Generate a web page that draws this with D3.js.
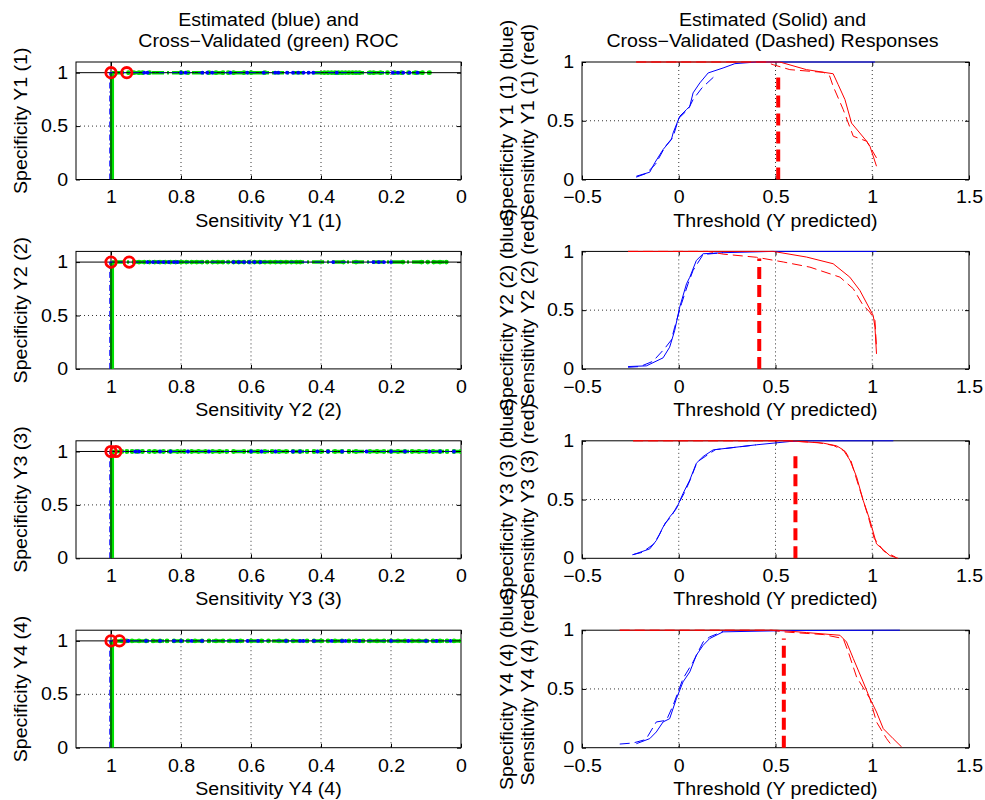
<!DOCTYPE html>
<html><head><meta charset="utf-8">
<script src="https://cdn.jsdelivr.net/npm/d3@7"></script>
<style>
body{margin:0;background:#fff;}
svg text{font-family:"Liberation Sans",Arial,Helvetica,sans-serif;font-size:17.5px;fill:#000;}
</style></head>
<body><svg id="chart" width="985" height="800"></svg>
<script>
// ---------- tick labels ----------
const rocXTicks = [1, 0.8, 0.6, 0.4, 0.2, 0];
const yTicks = [0, 0.5, 1];
const respXTicks = [-0.5, 0, 0.5, 1, 1.5];
const outputs = ["Y1 (1)", "Y2 (2)", "Y3 (3)", "Y4 (4)"];

// ---------- ROC data: sensitivity values at specificity 1 ----------
const rocEst1 = [0.905,0.896,0.80,0.787,0.739,0.725,0.711,0.659,0.611,0.564,0.531,0.522,0.497,0.48,0.465,0.45,0.435,0.422,0.355,0.195,0.18,0.165,0.147,0.124];
const rocCv1  = [0.95,0.935,0.92,0.91,0.89,0.80,0.78,0.72,0.70,0.68,0.665,0.65,0.62,0.60,0.56,0.39,0.38,0.37,0.36,0.35,0.34,0.33,0.32,0.31,0.30,0.29,0.26,0.25,0.23,0.21,0.19,0.17,0.15,0.13,0.11,0.09];
const rocEst2 = [0.896,0.88,0.865,0.85,0.835,0.82,0.81,0.65,0.635,0.62,0.605,0.59,0.573,0.365,0.25,0.235,0.22,0.2];
const rocCv2  = [0.934,0.92,0.905,0.89,0.875,0.86,0.845,0.83,0.815,0.80,0.785,0.77,0.755,0.74,0.725,0.71,0.695,0.68,0.665,0.65,0.635,0.62,0.605,0.59,0.575,0.56,0.545,0.53,0.515,0.50,0.485,0.47,0.459,0.336,0.30,0.166,0.113,0.095,0.078,0.06,0.042];
const rocEst3 = [0.93,0.92,0.86,0.83,0.78,0.72,0.60,0.57,0.53,0.48,0.46,0.41,0.38,0.34,0.27,0.2,0.16,0.09,0.06,0.02];
const rocCv3  = [0.97,0.955,0.94,0.925,0.91,0.89,0.875,0.85,0.83,0.81,0.79,0.77,0.75,0.73,0.71,0.69,0.67,0.65,0.62,0.60,0.58,0.56,0.54,0.52,0.50,0.48,0.46,0.44,0.42,0.40,0.38,0.36,0.34,0.32,0.30,0.26,0.24,0.22,0.20,0.18,0.16,0.14,0.12,0.10,0.08,0.06,0.04,0.02,0.0];
const rocEst4 = [0.96,0.95,0.90,0.86,0.82,0.80,0.77,0.74,0.64,0.61,0.58,0.5,0.46,0.45,0.42,0.37,0.34,0.33,0.29,0.2,0.15,0.1,0.07,0.03];
const rocCv4  = [0.97,0.955,0.94,0.92,0.90,0.88,0.86,0.84,0.82,0.80,0.78,0.76,0.74,0.72,0.70,0.68,0.66,0.63,0.60,0.57,0.55,0.52,0.50,0.48,0.44,0.42,0.40,0.38,0.36,0.34,0.32,0.30,0.28,0.26,0.24,0.22,0.20,0.18,0.16,0.14,0.12,0.10,0.08,0.06,0.04,0.02,0.0];
const rocEstVert = [1.004, 1.004, 1.004, 1.004];
const rocCvVert  = [0.997, 0.997, 0.997, 0.997];
const rocMarks = [[1, 0.955], [1, 0.948], [1, 0.986], [1, 0.976]];

// ---------- Response curves [threshold, value] ----------
const specEst1 = [[-0.219,0.028],[-0.15,0.062],[-0.124,0.142],[-0.081,0.255],[-0.038,0.34],[-0.029,0.397],[0.005,0.538],[0.04,0.595],[0.057,0.623],[0.074,0.737],[0.109,0.822],[0.152,0.907],[0.229,0.949],[0.29,0.986],[0.402,1.0],[1.014,1.0]];
const specCv1  = [[-0.22,0.02],[-0.17,0.05],[-0.12,0.13],[-0.07,0.28],[-0.03,0.36],[0.0,0.52],[0.05,0.6],[0.074,0.68],[0.12,0.78],[0.181,0.873]];
const sensEst1 = [[-0.22,1],[0.522,1],[0.66,0.935],[0.798,0.9],[0.824,0.807],[0.859,0.68],[0.893,0.48],[0.971,0.326],[0.988,0.283],[1.022,0.113]];
const sensCv1  = [[-0.22,1],[0.45,1],[0.488,0.977],[0.574,0.935],[0.747,0.912],[0.78,0.88],[0.798,0.793],[0.85,0.595],[0.902,0.368],[0.971,0.326],[1.022,0.184]];

const specEst2 = [[-0.262,0.02],[-0.167,0.026],[-0.081,0.094],[-0.047,0.185],[-0.021,0.327],[0.005,0.526],[0.04,0.724],[0.057,0.78],[0.091,0.923],[0.126,0.98],[0.229,0.989],[0.488,1],[1.022,1]];
const specCv2  = [[-0.262,0.014],[-0.2,0.02],[-0.133,0.065],[-0.072,0.175],[-0.038,0.247],[-0.021,0.355],[0.014,0.554],[0.048,0.724],[0.074,0.838],[0.126,0.974],[0.229,0.989]];
const sensEst2 = [[-0.262,1],[0.488,1],[0.66,0.952],[0.798,0.895],[0.884,0.781],[0.936,0.668],[1.005,0.455],[1.014,0.355],[1.022,0.128]];
const sensCv2  = [[-0.262,1],[0.15,1],[0.229,0.977],[0.402,0.95],[0.54,0.91],[0.678,0.866],[0.833,0.781],[0.902,0.682],[0.953,0.54],[0.988,0.483],[1.014,0.412],[1.022,0.185]];

const specEst3 = [[-0.236,0.031],[-0.15,0.08],[-0.116,0.151],[-0.081,0.266],[-0.047,0.351],[-0.012,0.423],[0.022,0.551],[0.057,0.666],[0.091,0.809],[0.126,0.866],[0.178,0.923],[0.402,0.966],[0.574,0.994],[0.7,1],[1.109,1]];
const specCv3  = [[-0.24,0.03],[-0.19,0.05],[-0.13,0.12],[-0.1,0.2],[-0.07,0.3],[-0.04,0.35],[-0.01,0.44],[0.03,0.56],[0.06,0.67],[0.095,0.82],[0.14,0.87],[0.19,0.925],[0.4,0.965]];
const sensEst3 = [[-0.236,1],[0.574,1],[0.747,0.98],[0.816,0.957],[0.85,0.923],[0.884,0.837],[0.919,0.694],[0.953,0.494],[0.988,0.323],[1.022,0.123],[1.091,0.023],[1.134,0]];
const sensCv3  = [[-0.236,1],[0.55,1],[0.72,0.985],[0.8,0.96],[0.86,0.91],[0.89,0.83],[0.91,0.72],[0.95,0.51],[0.98,0.35],[1.01,0.17],[1.06,0.06],[1.12,0.01]];

const specEst4 = [[-0.219,0.034],[-0.15,0.077],[-0.116,0.134],[-0.081,0.219],[-0.047,0.247],[-0.012,0.418],[0.022,0.56],[0.057,0.645],[0.091,0.787],[0.126,0.872],[0.16,0.929],[0.229,0.986],[0.574,0.997],[1.143,1]];
const specCv4  = [[-0.305,0.031],[-0.236,0.04],[-0.17,0.07],[-0.116,0.219],[-0.064,0.233],[-0.029,0.361],[0.022,0.588],[0.074,0.73],[0.126,0.9],[0.16,0.943],[0.229,0.99]];
const sensEst4 = [[-0.305,1],[0.505,1],[0.66,0.98],[0.833,0.957],[0.867,0.9],[0.902,0.759],[0.953,0.56],[0.988,0.418],[1.022,0.304],[1.057,0.162],[1.108,0.077],[1.152,0.006]];
const sensCv4  = [[-0.305,1],[0.48,1],[0.54,0.986],[0.747,0.963],[0.85,0.929],[0.876,0.815],[0.919,0.602],[0.988,0.418],[1.022,0.219],[1.074,0.077],[1.1,0.02]];

const thresholds = [0.514, 0.416, 0.603, 0.543];
const thresholdTops = [0.92, 0.94, 0.92, 0.93];

const rocEst = [rocEst1, rocEst2, rocEst3, rocEst4];
const rocCv = [rocCv1, rocCv2, rocCv3, rocCv4];
const specEst = [specEst1, specEst2, specEst3, specEst4];
const specCv = [specCv1, specCv2, specCv3, specCv4];
const sensEst = [sensEst1, sensEst2, sensEst3, sensEst4];
const sensCv = [sensCv1, sensCv2, sensCv3, sensCv4];

// ---------- layout ----------
const svg = d3.select("#chart");
const L = {x0: 76, x1: 461};
const R = {x0: 582, x1: 969};
const top0 = 62, step = 189.4, ph = 117.5;
const BLUE = "#0000ff", GREEN = "#00e000", RED = "#ff0000";
const SX = 1.12; // horizontal stretch of text

function grid(g, xs, ys, yt, gridX) {
  const [xa, xb] = xs.range();
  const [yb, ya] = ys.range();
  g.selectAll(".gx").data(gridX).join("line")
    .attr("x1", d => xs(d)).attr("x2", d => xs(d)).attr("y1", ya).attr("y2", yb)
    .attr("stroke", "#000").attr("stroke-width", 0.8).attr("stroke-dasharray", "1,3");
  g.selectAll(".gy").data(yt.filter(v => v > 0 && v < 1)).join("line")
    .attr("x1", xa).attr("x2", xb).attr("y1", d => ys(d)).attr("y2", d => ys(d))
    .attr("stroke", "#000").attr("stroke-width", 0.8).attr("stroke-dasharray", "1,3");
}
function axesBox(g, xs, ys, xt, yt, fmt) {
  const [xa, xb] = xs.range();
  const [yb, ya] = ys.range();
  const bottom = d3.axisBottom(xs).tickValues(xt).tickSize(-4).tickPadding(11.5).tickFormat(fmt);
  const gb = g.append("g").attr("transform", `translate(0,${yb})`).call(bottom);
  const topAx = d3.axisTop(xs).tickValues(xt).tickSize(-4).tickFormat("");
  const gt = g.append("g").attr("transform", `translate(0,${ya})`).call(topAx);
  const left = d3.axisLeft(ys).tickValues(yt).tickSize(-4).tickPadding(7).tickFormat(fmt);
  const gl = g.append("g").attr("transform", `translate(${xa},0)`).call(left);
  const rightAx = d3.axisRight(ys).tickValues(yt).tickSize(-4).tickFormat("");
  const gr = g.append("g").attr("transform", `translate(${xb},0)`).call(rightAx);
  [gb, gt, gl, gr].forEach(a => {
    a.select(".domain").remove();
    a.selectAll("line").attr("stroke", "#000");
    a.selectAll("text").attr("font-size", 17.5).attr("font-family", "Liberation Sans, Arial, sans-serif")
      .attr("transform", `scale(${SX},1)`);
  });
  g.append("rect").attr("x", xa).attr("y", ya).attr("width", xb - xa).attr("height", yb - ya)
    .attr("fill", "none").attr("stroke", "#000").attr("stroke-width", 1);
}
const fmt = d => (d < 0 ? "\u2212" : "") + Math.abs(d);
function label(x, y, t, rot) {
  svg.append("text").attr("transform", `translate(${x},${y})${rot ? " rotate(-90)" : ""} scale(${SX},1)`)
    .attr("text-anchor", "middle").text(t);
}

// titles
["Estimated (blue) and", "Cross\u2212Validated (green) ROC"].forEach((t, i) => label((L.x0 + L.x1) / 2, 26 + i * 21, t));
["Estimated (Solid) and", "Cross\u2212Validated (Dashed) Responses"].forEach((t, i) => label((R.x0 + R.x1) / 2 - 3, 26 + i * 21, t));

for (let i = 0; i < 4; i++) {
  const yt0 = top0 + i * step, yb0 = yt0 + ph;

  // ----- left ROC panel -----
  const xs = d3.scaleLinear().domain([1.1, 0]).range([L.x0, L.x1]);
  const ys = d3.scaleLinear().domain([0, 1.1]).range([yb0, yt0]);
  const gL = svg.append("g");
  const clipId = "clipL" + i;
  svg.append("clipPath").attr("id", clipId).append("rect")
    .attr("x", L.x0).attr("y", yt0).attr("width", L.x1 - L.x0).attr("height", ph);
  grid(gL, xs, ys, yTicks, [0.8, 0.6, 0.4, 0.2]);
  axesBox(gL, xs, ys, rocXTicks, yTicks, fmt);
  gL.selectAll(".gy1").data([0.5]).join("line");
  const line = d3.line().x(d => xs(d[0])).y(d => ys(d[1]));

  const cvVert = [[rocCvVert[i], 0], [rocCvVert[i], 1]];
  const cvHor = [[rocCvVert[i], 1]].concat(rocCv[i].map(s => [s, 1]));
  const estPts = [[rocEstVert[i], 0], [rocEstVert[i], 1]].concat(rocEst[i].map(s => [s, 1]));
  const gp = gL.append("g").attr("clip-path", `url(#${clipId})`);
  // cross-validated (green), thick
  gp.append("path").attr("d", line(cvVert)).attr("fill", "none")
    .attr("stroke", GREEN).attr("stroke-width", 4);
  gp.append("path").attr("d", line(cvHor)).attr("fill", "none")
    .attr("stroke", GREEN).attr("stroke-width", 3.5).attr("stroke-dasharray", "12,3,2,3");
  gp.selectAll(".gd").data(rocCv[i]).join("circle")
    .attr("cx", d => xs(d)).attr("cy", ys(1)).attr("r", 2.4).attr("fill", GREEN);
  // reference lines (black)
  gp.append("line").attr("x1", L.x0).attr("x2", L.x1).attr("y1", ys(1)).attr("y2", ys(1))
    .attr("stroke", "#000").attr("stroke-width", 1);
  gp.append("line").attr("x1", xs(1)).attr("x2", xs(1)).attr("y1", yt0).attr("y2", yb0)
    .attr("stroke", "#000").attr("stroke-width", 1);
  // estimated (blue)
  gp.append("path").attr("d", line(estPts)).attr("fill", "none")
    .attr("stroke", BLUE).attr("stroke-width", 1).attr("stroke-dasharray", "6,3,1,3").attr("opacity", 0.8);
  gp.selectAll(".bd").data(rocEst[i]).join("circle")
    .attr("cx", d => xs(d)).attr("cy", ys(1)).attr("r", 1.9).attr("fill", BLUE);
  // operating points
  gL.selectAll(".op").data(rocMarks[i]).join("circle")
    .attr("cx", d => xs(d)).attr("cy", ys(1)).attr("r", 5.2)
    .attr("fill", "none").attr("stroke", RED).attr("stroke-width", 2.8);
  label((L.x0 + L.x1) / 2, yb0 + 47, "Sensitivity " + outputs[i]);
  label(27, (yt0 + yb0) / 2, "Specificity " + outputs[i], true);

  // ----- right response panel -----
  const xr = d3.scaleLinear().domain([-0.5, 1.5]).range([R.x0, R.x1]);
  const yr = d3.scaleLinear().domain([0, 1]).range([yb0, yt0]);
  const gR = svg.append("g");
  grid(gR, xr, yr, yTicks, [0, 0.5, 1]);
  axesBox(gR, xr, yr, respXTicks, yTicks, fmt);
  const lr = d3.line().x(d => xr(d[0])).y(d => yr(d[1]));
  gR.append("path").attr("d", lr(specCv[i])).attr("fill", "none").attr("stroke", BLUE)
    .attr("stroke-width", 1).attr("stroke-dasharray", "10,5");
  gR.append("path").attr("d", lr(specEst[i])).attr("fill", "none").attr("stroke", BLUE)
    .attr("stroke-width", 1);
  gR.append("path").attr("d", lr(sensCv[i])).attr("fill", "none").attr("stroke", RED)
    .attr("stroke-width", 1).attr("stroke-dasharray", "10,5");
  gR.append("path").attr("d", lr(sensEst[i])).attr("fill", "none").attr("stroke", RED)
    .attr("stroke-width", 1);
  gR.append("line").attr("x1", xr(thresholds[i])).attr("x2", xr(thresholds[i]))
    .attr("y1", yr(0)).attr("y2", yr(thresholdTops[i]))
    .attr("stroke", RED).attr("stroke-width", 4).attr("stroke-dasharray", "12,6");
  label((R.x0 + R.x1) / 2, yb0 + 47, "Threshold (Y predicted)");
  const cy = (yt0 + yb0) / 2;
  label(513, cy, "Specificity " + outputs[i] + " (blue)", true);
  label(534, cy, "Sensitivity " + outputs[i] + " (red)", true);
}
</script></body></html>
